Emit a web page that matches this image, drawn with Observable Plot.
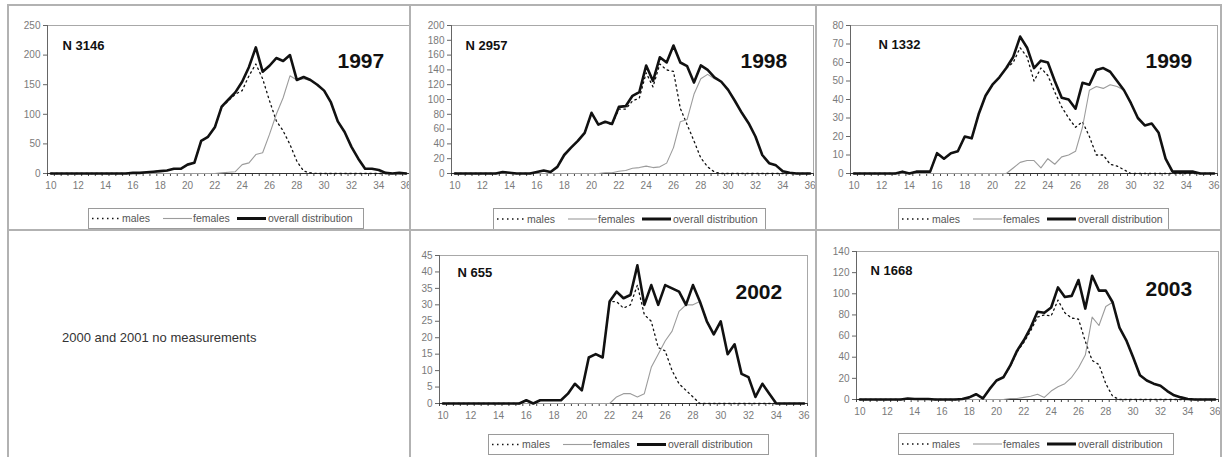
<!DOCTYPE html>
<html><head><meta charset="utf-8">
<script src="https://cdn.jsdelivr.net/npm/d3@7"></script>
<script src="https://cdn.jsdelivr.net/npm/@observablehq/plot@0.6"></script>
<style>
body{margin:0;background:#fff;font-family:"Liberation Sans",Arial,sans-serif;}
#root{position:relative;width:1228px;height:457px;overflow:hidden;background:#fff;}
.panel{position:absolute;overflow:hidden;}
.bline{position:absolute;background:#b2b2b2;}
.legend{position:absolute;border:1px solid #9a9a9a;box-sizing:border-box;font-size:10.5px;color:#555;background:#fff;}
.legend svg,.legend span{position:absolute;top:0;}
.note{position:absolute;font-size:13px;color:#333;line-height:15px;white-space:nowrap;}
</style></head><body><div id="root"></div>
<script>
// ---- data ----
const lengthCm = [10,10.5,11,11.5,12,12.5,13,13.5,14,14.5, 15,15.5,16,16.5,17,17.5,18,18.5,19,19.5,
  20,20.5,21,21.5,22,22.5,23,23.5,24,24.5, 25,25.5,26,26.5,27,27.5,28,28.5,29,29.5,
  30,30.5,31,31.5,32,32.5,33,33.5,34,34.5, 35,35.5,36];
const xTickLabels = [10,12,14,16,18,20,22,24,26,28,30,32,34,36];
const seriesNames = ["males","females","overall distribution"];
const years = ["1997","1998","1999","2002","2003"];
const sampleSizes = ["N 3146","N 2957","N 1332","N 655","N 1668"];
const noteText = "2000 and 2001 no measurements";

const yTicks1997 = [0,50,100,150,200,250];
const yTicks1998 = [0,20,40,60,80,100,120,140,160,180,200];
const yTicks1999 = [0,10,20,30,40,50,60,70,80];
const yTicks2002 = [0,5,10,15,20,25,30,35,40,45];
const yTicks2003 = [0,20,40,60,80,100,120,140];

const overall1997 = [0,0,0,0,0,0,0,0,0,0, 0,0,1,1,2,3,4,5,8,8, 15,18,55,62,78,113,125,137,155,180,
  213,172,182,195,190,200,158,163,158,150, 140,120,88,70,45,25,8,8,6,1, 0,1,0];
const males1997 = [0,0,0,0,0,0,0,0,0,0, 0,0,1,1,2,3,4,5,8,8, 15,18,55,62,78,112,123,134,140,165,
  185,160,123,89,72,49,21,4,1,0, 0,0,0,0,0,0,0,0,0,0, 0,0,0];
const females1997 = [0,0,0,0,0,0,0,0,0,0, 0,0,0,0,0,0,0,0,0,0, 0,0,0,0,0,1,2,3,15,18,
  32,35,66,100,128,165,158,160,157,150, 140,120,88,70,45,25,8,8,6,1, 0,1,0];

const overall1998 = [0,0,0,0,0,0,0,2,1,0, 0,0,2,4,2,9,25,35,44,55, 82,66,70,67,90,91,105,110,146,125,
  157,150,173,150,145,123,146,140,130,124, 113,98,82,68,50,25,14,11,3,1, 0,0,0];
const males1998 = [0,0,0,0,0,0,0,2,1,0, 0,0,2,4,2,9,25,35,44,55, 82,66,69,66,87,87,98,102,136,117,
  148,140,138,88,66,44,21,9,2,0, 0,0,0,0,0,0,0,0,0,0, 0,0,0];
const females1998 = [0,0,0,0,0,0,0,0,0,0, 0,0,0,0,0,0,0,0,0,0, 0,0,1,1,3,4,7,8,10,8,
  9,14,35,70,73,107,128,134,128,124, 113,98,82,68,50,25,14,11,3,1, 0,0,0];

const overall1999 = [0,0,0,0,0,0,0,1,0,1, 1,1,11,8,11,12,20,19,32,42, 48,52,57,63,74,68,57,61,60,50,
  41,40,35,49,48,56,57,55,50,45, 38,30,26,27,22,8,1,1,1,1, 0,0,0];
const males1999 = [0,0,0,0,0,0,0,1,0,1, 1,1,11,8,11,12,20,19,32,42, 48,52,57,60,68,63,50,57,53,44,
  36,30,25,28,20,10,10,5,4,2, 0,0,0,0,0,0,0,0,0,0, 0,0,0];
const females1999 = [0,0,0,0,0,0,0,0,0,0, 0,0,0,0,0,0,0,0,0,0, 0,0,0,3,6,7,7,3,8,5,
  9,10,12,25,45,47,46,48,47,45, 38,30,26,27,22,8,1,1,1,1, 0,0,0];

const overall2002 = [0,0,0,0,0,0,0,0,0,0, 0,0,1,0,1,1,1,1,3,6, 4,14,15,14,31,34,32,33,42,30,
  36,30,36,35,34,30,36,31,25,21, 25,15,18,9,8,2,6,3,0,0, 0,0,0];
const males2002 = [0,0,0,0,0,0,0,0,0,0, 0,0,1,0,1,1,1,1,3,6, 4,14,15,14,31,31,29,30,36,27,
  25,17,16,10,6,4,2,0,0,0, 0,0,0,0,0,0,0,0,0,0, 0,0,0];
const females2002 = [0,0,0,0,0,0,0,0,0,0, 0,0,0,0,0,0,0,0,0,0, 0,0,0,0,0,2,3,3,2,3,
  11,15,19,22,28,30,30,31,25,21, 25,15,18,9,8,2,6,3,0,0, 0,0,0];

const overall2003 = [0,0,0,0,0,0,0,1,0.5,0.5, 0.5,0,0,0,0,0.5,2,5,1,10, 18,21,32,46,56,68,83,82,87,106,
  97,98,113,86,117,103,103,92,68,56, 40,23,18,15,13,8,4,2,0.5,0, 0,0,0];
const males2003 = [0,0,0,0,0,0,0,1,0.5,0.5, 0.5,0,0,0,0,0.5,2,5,1,10, 18,21,31,45,54,65,78,80,79,94,
  82,77,76,55,37,33,15,3,0,0, 0,0,0,0,0,0,0,0,0,0, 0,0,0];
const females2003 = [0,0,0,0,0,0,0,0,0,0, 0,0,0,0,0,0,0,0,0,0, 0,0,1,1,2,3,5,2,8,12,
  15,21,30,42,78,70,88,92,68,56, 40,23,18,15,13,8,4,2,0.5,0, 0,0,0];

// ---- layout (pixel positions in the page) ----
const layouts = [
  {svgLeft:9,   svgTop:6,   axis:47,  top:25,  bottom:173, right:409,  clip:411,  nX:62,  nTop:40,  yrX:337,  yrTop:53,  lgX:88,  lgY:208, lgW:276, lgH:21},
  {svgLeft:411, svgTop:6,   axis:451, top:25,  bottom:173, right:813,  clip:815,  nX:465, nTop:40,  yrX:740,  yrTop:53,  lgX:493, lgY:208, lgW:273, lgH:22},
  {svgLeft:817, svgTop:6,   axis:850, top:25,  bottom:173, right:1217, clip:1221, nX:878, nTop:39,  yrX:1145, yrTop:53,  lgX:898, lgY:208, lgW:271, lgH:22},
  {svgLeft:411, svgTop:232, axis:439, top:255, bottom:403, right:807,  clip:815,  nX:457, nTop:267, yrX:735,  yrTop:284, lgX:488, lgY:434, lgW:281, lgH:21},
  {svgLeft:817, svgTop:232, axis:856, top:251, bottom:399, right:1218, clip:1221, nX:870, nTop:265, yrX:1145, yrTop:281, lgX:898, lgY:433, lgW:276, lgH:22}
];

const panels = [
  {males:males1997, females:females1997, overall:overall1997, yTicks:yTicks1997},
  {males:males1998, females:females1998, overall:overall1998, yTicks:yTicks1998},
  {males:males1999, females:females1999, overall:overall1999, yTicks:yTicks1999},
  {males:males2002, females:females2002, overall:overall2002, yTicks:yTicks2002},
  {males:males2003, females:females2003, overall:overall2003, yTicks:yTicks2003}
];

const root = document.getElementById("root");
const half = (lengthCm[1] - lengthCm[0]) / 2;
const xDomain = [lengthCm[0] - half, lengthCm[lengthCm.length - 1] + half];
const bounds = lengthCm.map(v => v - half).concat([xDomain[1]]);

panels.forEach((p, k) => {
  const L = layouts[k];
  const data = lengthCm.map((x, i) => ({x, males: p.males[i], females: p.females[i], overall: p.overall[i]}));
  const mb = 24;
  const svg = Plot.plot({
    width: L.right - L.svgLeft,
    height: L.bottom - L.svgTop + mb,
    marginLeft: L.axis - L.svgLeft,
    marginRight: 0,
    marginTop: L.top - L.svgTop,
    marginBottom: mb,
    style: {background: "transparent", fontFamily: "'Liberation Sans', Arial, sans-serif", fontSize: "10px", overflow: "visible"},
    x: {domain: xDomain, axis: null},
    y: {domain: [0, p.yTicks[p.yTicks.length - 1]], axis: null},
    marks: [
      Plot.frame({stroke: "#a8a8a8"}),
      Plot.axisY({ticks: p.yTicks, tickSize: 4, tickPadding: 3, fontSize: 10, stroke: "#666", fill: "#7a7a7a", label: null}),
      Plot.axisX({ticks: bounds, tickSize: 3, tickFormat: () => "", stroke: "#444", label: null}),
      Plot.axisX({ticks: xTickLabels, tickSize: 0, tickPadding: 8, fontSize: 10, fill: "#7a7a7a", label: null}),
      Plot.ruleX([xDomain[0]], {stroke: "#666"}),
      Plot.ruleY([0], {stroke: "#333"}),
      Plot.line(data, {x: "x", y: "males", stroke: "#111", strokeWidth: 1.3, strokeDasharray: "1.5,3.5"}),
      Plot.line(data, {x: "x", y: "females", stroke: "#9c9c9c", strokeWidth: 1.1}),
      Plot.line(data, {x: "x", y: "overall", stroke: "#111", strokeWidth: 2.6, strokeLinejoin: "round"}),
      Plot.text([sampleSizes[k]], {text: d => d, frameAnchor: "top-left", textAnchor: "start", lineAnchor: "top",
        dx: L.nX - L.axis, dy: L.nTop - L.top, fontSize: 13, fontWeight: "bold", fill: "#111"}),
      Plot.text([years[k]], {text: d => d, frameAnchor: "top-left", textAnchor: "start", lineAnchor: "top",
        dx: L.yrX - L.axis, dy: L.yrTop - L.top, fontSize: 21, fontWeight: "bold", fill: "#111"})
    ]
  });
  const wrap = document.createElement("div");
  wrap.className = "panel";
  wrap.style.left = L.svgLeft + "px";
  wrap.style.top = L.svgTop + "px";
  wrap.style.width = (L.clip - L.svgLeft) + "px";
  wrap.style.height = (L.bottom - L.svgTop + mb) + "px";
  wrap.appendChild(svg);
  root.appendChild(wrap);

  // legend
  const lg = document.createElement("div");
  lg.className = "legend";
  lg.style.left = L.lgX + "px"; lg.style.top = L.lgY + "px";
  lg.style.width = L.lgW + "px"; lg.style.height = L.lgH + "px";
  const h = L.lgH - 2;
  const samples = [
    {x: 3, t: 33, stroke: "#111", w: 1.3, dash: "1.5,3.5"},
    {x: 74, t: 104, stroke: "#9c9c9c", w: 1.1, dash: null},
    {x: 148, t: 179, stroke: "#111", w: 3, dash: null}
  ];
  samples.forEach((s, j) => {
    const ns = "http://www.w3.org/2000/svg";
    const sv = document.createElementNS(ns, "svg");
    sv.setAttribute("width", 29); sv.setAttribute("height", h);
    sv.style.left = s.x + "px";
    const ln = document.createElementNS(ns, "line");
    ln.setAttribute("x1", 0); ln.setAttribute("x2", 29);
    ln.setAttribute("y1", h / 2); ln.setAttribute("y2", h / 2);
    ln.setAttribute("stroke", s.stroke); ln.setAttribute("stroke-width", s.w);
    if (s.dash) ln.setAttribute("stroke-dasharray", s.dash);
    sv.appendChild(ln);
    lg.appendChild(sv);
    const sp = document.createElement("span");
    sp.textContent = seriesNames[j];
    sp.style.left = s.t + "px";
    sp.style.lineHeight = h + "px";
    lg.appendChild(sp);
  });
  root.appendChild(lg);
});

// note cell
const note = document.createElement("div");
note.className = "note";
note.style.left = "62px"; note.style.top = "330px";
note.textContent = noteText;
root.appendChild(note);

// cell borders
const borders = [
  [7, 4, 1215, 2], [7, 229, 1215, 2],
  [7, 4, 2, 453], [409, 4, 2, 453], [815, 4, 2, 453], [1220, 4, 2, 453]
];
borders.forEach(([x, y, w, hh]) => {
  const d = document.createElement("div");
  d.className = "bline";
  d.style.left = x + "px"; d.style.top = y + "px";
  d.style.width = w + "px"; d.style.height = hh + "px";
  root.appendChild(d);
});
</script></body></html>
